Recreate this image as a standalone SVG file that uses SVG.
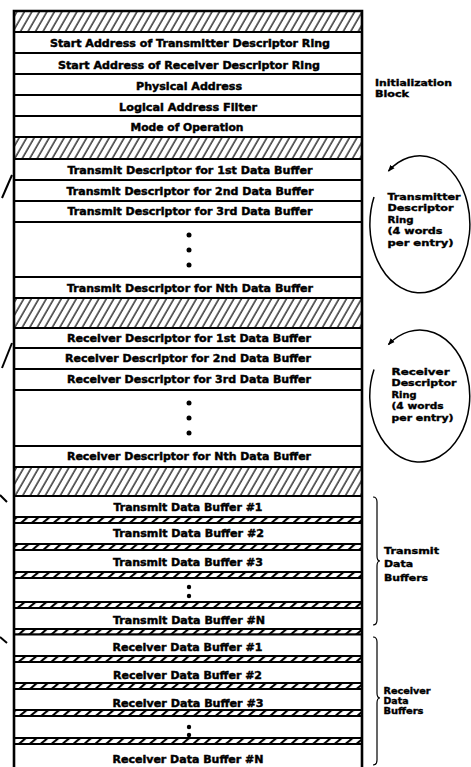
<svg xmlns="http://www.w3.org/2000/svg" width="471" height="767" viewBox="0 0 471 767">
  <defs>
    <!-- wide diagonal hatching for reserved/gap areas -->
    <pattern id="hatch" patternUnits="userSpaceOnUse" width="6.5" height="10" patternTransform="rotate(30)">
      <line x1="1" y1="-1" x2="1" y2="11" stroke="#000" stroke-width="1.2"/>
    </pattern>
    <!-- narrow hatched separator between data buffers -->
    <pattern id="hatchBand" patternUnits="userSpaceOnUse" width="7" height="10" patternTransform="rotate(50)">
      <line x1="1" y1="-1" x2="1" y2="11" stroke="#000" stroke-width="2.2"/>
    </pattern>
    <marker id="ringHead" markerUnits="userSpaceOnUse" markerWidth="8" markerHeight="7" refX="6" refY="3.5" orient="auto">
      <path d="M0,0.8 L7,3.5 L0,6.2 Z" fill="#000"/>
    </marker>
    <style>
      .row { fill: #fff; stroke: #000; stroke-width: 2; }
      .gap { fill: url(#hatch); stroke: #000; stroke-width: 2; }
      .band { fill: url(#hatchBand); stroke: #000; stroke-width: 1.8; }
      .frame { fill: none; stroke: #000; stroke-width: 2.6; }
      .dot { fill: #000; }
      .lbl { font-family: "DejaVu Sans", "Liberation Sans", sans-serif; font-weight: bold; font-size: 10.5px; text-anchor: middle; fill: #000; stroke: #000; stroke-width: 0.45; }
      .side { font-family: "DejaVu Sans", "Liberation Sans", sans-serif; font-weight: bold; font-size: 9.5px; fill: #000; stroke: #000; stroke-width: 0.4; }
      .conn { fill: none; stroke: #000; stroke-width: 1.5; }
      .tick { fill: none; stroke: #000; stroke-width: 2; }
      .brace { fill: none; stroke: #000; stroke-width: 1.2; }
    </style>
  </defs>

  <!-- Initialization block -->
  <g id="gap-top"><rect class="gap" x="14" y="11" width="348" height="21"/></g>
  <g id="init-tx-ring"><rect class="row" x="14" y="32" width="348" height="21"/>
    <text class="lbl" x="190" y="47" textLength="280" lengthAdjust="spacingAndGlyphs">Start Address of Transmitter Descriptor Ring</text></g>
  <g id="init-rx-ring"><rect class="row" x="14" y="53" width="348" height="21"/>
    <text class="lbl" x="189" y="69" textLength="262" lengthAdjust="spacingAndGlyphs">Start Address of Receiver Descriptor Ring</text></g>
  <g id="init-phys"><rect class="row" x="14" y="74" width="348" height="21"/>
    <text class="lbl" x="189" y="90" textLength="106" lengthAdjust="spacingAndGlyphs">Physical Address</text></g>
  <g id="init-filter"><rect class="row" x="14" y="95" width="348" height="21"/>
    <text class="lbl" x="188" y="110.5" textLength="138" lengthAdjust="spacingAndGlyphs">Logical Address Filter</text></g>
  <g id="init-mode"><rect class="row" x="14" y="116" width="348" height="21"/>
    <text class="lbl" x="187" y="131" textLength="113" lengthAdjust="spacingAndGlyphs">Mode of Operation</text></g>

  <!-- Transmitter descriptor ring -->
  <g id="gap-tdr"><rect class="gap" x="14" y="137" width="348" height="22"/></g>
  <g id="tdr-1"><rect class="row" x="14" y="159" width="348" height="21"/>
    <text class="lbl" x="190" y="174" textLength="245" lengthAdjust="spacingAndGlyphs">Transmit Descriptor for 1st Data Buffer</text></g>
  <g id="tdr-2"><rect class="row" x="14" y="180" width="348" height="21"/>
    <text class="lbl" x="190" y="195" textLength="247" lengthAdjust="spacingAndGlyphs">Transmit Descriptor for 2nd Data Buffer</text></g>
  <g id="tdr-3"><rect class="row" x="14" y="201" width="348" height="21"/>
    <text class="lbl" x="190" y="214.5" textLength="245" lengthAdjust="spacingAndGlyphs">Transmit Descriptor for 3rd Data Buffer</text></g>
  <g id="tdr-more"><rect class="row" x="14" y="222" width="348" height="55"/>
    <circle class="dot" cx="189" cy="235" r="2.5"/><circle class="dot" cx="189" cy="250" r="2.5"/><circle class="dot" cx="189" cy="265" r="2.5"/></g>
  <g id="tdr-n"><rect class="row" x="14" y="277" width="348" height="21"/>
    <text class="lbl" x="190" y="292" textLength="246" lengthAdjust="spacingAndGlyphs">Transmit Descriptor for Nth Data Buffer</text></g>

  <!-- Receiver descriptor ring -->
  <g id="gap-rdr"><rect class="gap" x="14" y="298" width="348" height="30"/></g>
  <g id="rdr-1"><rect class="row" x="14" y="328" width="348" height="20"/>
    <text class="lbl" x="189" y="341.5" textLength="244" lengthAdjust="spacingAndGlyphs">Receiver Descriptor for 1st Data Buffer</text></g>
  <g id="rdr-2"><rect class="row" x="14" y="348" width="348" height="21"/>
    <text class="lbl" x="188" y="362" textLength="246" lengthAdjust="spacingAndGlyphs">Receiver Descriptor for 2nd Data Buffer</text></g>
  <g id="rdr-3"><rect class="row" x="14" y="369" width="348" height="21"/>
    <text class="lbl" x="189" y="383" textLength="244" lengthAdjust="spacingAndGlyphs">Receiver Descriptor for 3rd Data Buffer</text></g>
  <g id="rdr-more"><rect class="row" x="14" y="390" width="348" height="56"/>
    <circle class="dot" cx="189" cy="403" r="2.5"/><circle class="dot" cx="189" cy="418" r="2.5"/><circle class="dot" cx="189" cy="433" r="2.5"/></g>
  <g id="rdr-n"><rect class="row" x="14" y="446" width="348" height="21"/>
    <text class="lbl" x="189" y="460" textLength="244" lengthAdjust="spacingAndGlyphs">Receiver Descriptor for Nth Data Buffer</text></g>

  <!-- Transmit data buffers -->
  <g id="gap-tdb"><rect class="gap" x="14" y="467" width="348" height="29"/></g>
  <g id="tdb-1"><rect class="row" x="14" y="496" width="348" height="21"/>
    <text class="lbl" x="188" y="510.5" textLength="149" lengthAdjust="spacingAndGlyphs">Transmit Data Buffer #1</text></g>
  <g id="tdb-band-1"><rect class="band" x="14" y="517" width="348" height="6"/></g>
  <g id="tdb-2"><rect class="row" x="14" y="523" width="348" height="21"/>
    <text class="lbl" x="188.5" y="537" textLength="151" lengthAdjust="spacingAndGlyphs">Transmit Data Buffer #2</text></g>
  <g id="tdb-band-2"><rect class="band" x="14" y="544" width="348" height="6"/></g>
  <g id="tdb-3"><rect class="row" x="14" y="550" width="348" height="22"/>
    <text class="lbl" x="188" y="566" textLength="150" lengthAdjust="spacingAndGlyphs">Transmit Data Buffer #3</text></g>
  <g id="tdb-band-3"><rect class="band" x="14" y="572" width="348" height="6"/></g>
  <g id="tdb-more"><rect class="row" x="14" y="578" width="348" height="24"/>
    <circle class="dot" cx="189" cy="587" r="2.2"/><circle class="dot" cx="189" cy="596" r="2.2"/></g>
  <g id="tdb-band-4"><rect class="band" x="14" y="602" width="348" height="6"/></g>
  <g id="tdb-n"><rect class="row" x="14" y="608" width="348" height="21"/>
    <text class="lbl" x="189" y="624" textLength="152" lengthAdjust="spacingAndGlyphs">Transmit Data Buffer #N</text></g>
  <g id="tdb-band-5"><rect class="band" x="14" y="629" width="348" height="5.5"/></g>

  <!-- Receiver data buffers -->
  <g id="rdb-1"><rect class="row" x="14" y="634.5" width="348" height="21.5"/>
    <text class="lbl" x="187.5" y="650.5" textLength="150" lengthAdjust="spacingAndGlyphs">Receiver Data Buffer #1</text></g>
  <g id="rdb-band-1"><rect class="band" x="14" y="656" width="348" height="6"/></g>
  <g id="rdb-2"><rect class="row" x="14" y="662" width="348" height="21"/>
    <text class="lbl" x="187.5" y="678.5" textLength="149" lengthAdjust="spacingAndGlyphs">Receiver Data Buffer #2</text></g>
  <g id="rdb-band-2"><rect class="band" x="14" y="683" width="348" height="6"/></g>
  <g id="rdb-3"><rect class="row" x="14" y="689" width="348" height="21"/>
    <text class="lbl" x="188" y="706.5" textLength="151" lengthAdjust="spacingAndGlyphs">Receiver Data Buffer #3</text></g>
  <g id="rdb-band-3"><rect class="band" x="14" y="710" width="348" height="6"/></g>
  <g id="rdb-more"><rect class="row" x="14" y="716" width="348" height="22"/>
    <circle class="dot" cx="189" cy="727" r="2.2"/><circle class="dot" cx="189" cy="735" r="2.2"/></g>
  <g id="rdb-band-4"><rect class="band" x="14" y="738" width="348" height="6"/></g>
  <g id="rdb-n"><rect class="row" x="14" y="744" width="348" height="26"/>
    <text class="lbl" x="188" y="763" textLength="151" lengthAdjust="spacingAndGlyphs">Receiver Data Buffer #N</text></g>

  <!-- outer frame of the memory map -->
  <path class="frame" d="M14,770 L14,11 L362,11 L362,770"/>

  <!-- side captions -->
  <g id="cap-init">
    <text class="side" x="375" y="85.5" textLength="77" lengthAdjust="spacingAndGlyphs">Initialization</text>
    <text class="side" x="375" y="97" textLength="34" lengthAdjust="spacingAndGlyphs">Block</text>
  </g>
  <g id="cap-tdr">
    <text class="side" x="387.5" y="199.5" textLength="73" lengthAdjust="spacingAndGlyphs">Transmitter</text>
    <text class="side" x="387.5" y="211" textLength="66" lengthAdjust="spacingAndGlyphs">Descriptor</text>
    <text class="side" x="387.5" y="222.5" textLength="26" lengthAdjust="spacingAndGlyphs">Ring</text>
    <text class="side" x="387.5" y="234" textLength="55" lengthAdjust="spacingAndGlyphs">(4 words</text>
    <text class="side" x="387.5" y="245.5" textLength="66" lengthAdjust="spacingAndGlyphs">per entry)</text>
  </g>
  <g id="cap-rdr">
    <text class="side" x="391.5" y="374.5" textLength="58" lengthAdjust="spacingAndGlyphs">Receiver</text>
    <text class="side" x="391.5" y="386" textLength="65" lengthAdjust="spacingAndGlyphs">Descriptor</text>
    <text class="side" x="391.5" y="397.5" textLength="25" lengthAdjust="spacingAndGlyphs">Ring</text>
    <text class="side" x="391.5" y="409" textLength="52" lengthAdjust="spacingAndGlyphs">(4 words</text>
    <text class="side" x="391.5" y="420.5" textLength="62" lengthAdjust="spacingAndGlyphs">per entry)</text>
  </g>
  <g id="cap-tdb">
    <text class="side" x="384" y="554" textLength="55" lengthAdjust="spacingAndGlyphs">Transmit</text>
    <text class="side" x="384" y="567" textLength="29" lengthAdjust="spacingAndGlyphs">Data</text>
    <text class="side" x="384" y="581" textLength="44" lengthAdjust="spacingAndGlyphs">Buffers</text>
  </g>
  <g id="cap-rdb">
    <text class="side" x="383.5" y="694" textLength="47" lengthAdjust="spacingAndGlyphs">Receiver</text>
    <text class="side" x="383.5" y="704" textLength="25" lengthAdjust="spacingAndGlyphs">Data</text>
    <text class="side" x="383.5" y="714" textLength="40" lengthAdjust="spacingAndGlyphs">Buffers</text>
  </g>

  <!-- connectors: ring loops, braces and incoming pointer stubs -->
  <g id="connectors">
    <path class="conn" d="M374,197.1 A50,68.5 0 1 0 388.5,171" marker-end="url(#ringHead)"/>
    <path class="conn" d="M374,369.4 A50,66 0 1 0 388.5,344.5" marker-end="url(#ringHead)"/>
    <path class="brace" d="M373,497 Q377,497 377,502 L377,556 Q377,561 380,561 Q377,561 377,566 L377,620 Q377,625 373,625"/>
    <path class="brace" d="M373,637 Q377,637 377,642 L377,693 Q377,698 380,698 Q377,698 377,703 L377,760 Q377,765 373,765"/>
    <line class="tick" x1="2" y1="198" x2="12" y2="175"/>
    <line class="tick" x1="2" y1="368" x2="12" y2="343"/>
    <line class="tick" x1="0" y1="495" x2="7" y2="502"/>
    <line class="tick" x1="0" y1="637" x2="7" y2="643"/>
  </g>
</svg>
